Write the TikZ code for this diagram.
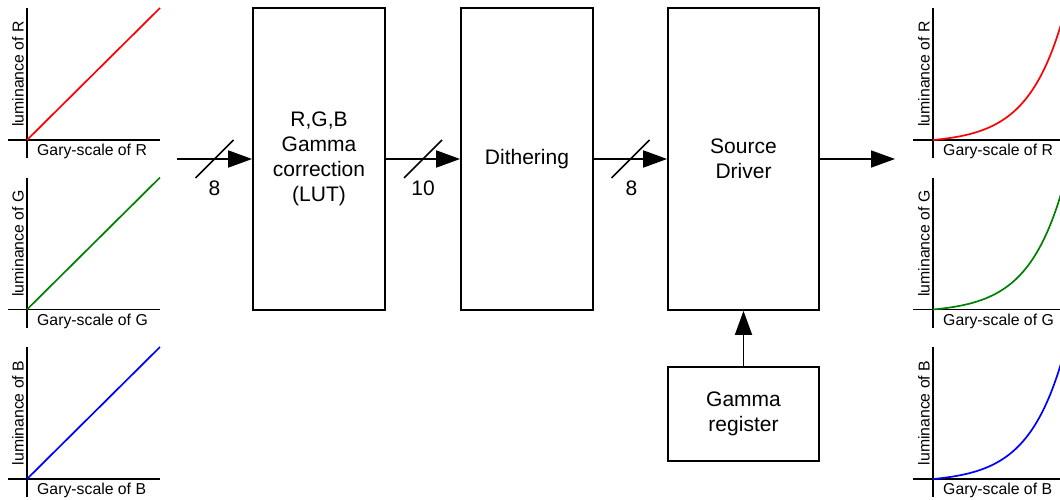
\documentclass[tikz,border=0pt]{standalone}
\usepackage{fontspec}
\setmainfont{Liberation Sans}
\usetikzlibrary{arrows.meta,calc}
\tikzset{
  blk/.style={draw, line width=1.8pt, fill=white, align=center, inner sep=0pt,
              font=\fontsize{21}{25}\selectfont},
  arr/.style={line width=1.8pt, -{Triangle[length=24pt,width=17pt]}},
  slashln/.style={line width=1.5pt},
  bits/.style={font=\fontsize{21}{24}\selectfont, inner sep=0pt},
  axisln/.style={line width=1.9pt},
  curveln/.style={line width=1.7pt},
  xlab/.style={font=\fontsize{15.8}{18}\selectfont, inner sep=0pt, anchor=base west},
  ylab/.style={font=\fontsize{15.8}{18}\selectfont, inner sep=0pt, rotate=90, anchor=base},
}
\definecolor{cR}{RGB}{255,0,0}
\definecolor{cG}{RGB}{0,128,0}
\definecolor{cB}{RGB}{0,0,255}
\begin{document}
\begin{tikzpicture}[x=1pt,y=-1pt]
\useasboundingbox (0,0) rectangle (1060,500);

% ---------- left plots (linear) ----------
\foreach \oy/\c/\l in {0/cR/R, 169.5/cG/G, 339/cB/B}{
  \draw[axisln] (27,8+\oy) -- (27,158+\oy);
  \draw[axisln] (8,140+\oy) -- (160,140+\oy);
  \draw[curveln, \c] (27,140+\oy) -- (160,8+\oy);
  \node[xlab] at (37,155.5+\oy) {Gary-scale of \l};
  \node[ylab] at (23.5,74+\oy) {luminance of \l};
}

% ---------- right plots (gamma curves) ----------
\begin{scope}
\clip (0,0) rectangle (1060,500);
\foreach \oy/\c/\l in {0/cR/R, 169.5/cG/G, 339/cB/B}{
  \draw[axisln] (933,8+\oy) -- (933,158+\oy);
  \draw[axisln] (913,140+\oy) -- (1075,140+\oy);
  \draw[curveln, \c] plot[domain=0:133, samples=80, smooth]
    ({933+\x},{140+\oy-3.3*(exp(0.028*\x)-1)});
  \node[xlab] at (943,155.5+\oy) {Gary-scale of \l};
  \node[ylab] at (929.5,74+\oy) {luminance of \l};
}
\end{scope}

% ---------- blocks ----------
\node[blk, minimum width=132pt, minimum height=302pt] (gc) at (319,159)
  {R,G,B\\Gamma\\correction\\(LUT)};
\node[blk, minimum width=132pt, minimum height=302pt] (di) at (527,159) {Dithering};
\node[blk, minimum width=151pt, minimum height=302pt] (sd) at (743.5,159) {Source\\Driver};
\node[blk, minimum width=151pt, minimum height=94pt] (gr) at (743.5,414) {Gamma\\register};

\coordinate (in) at (177,159);
\coordinate (out) at (895,159);

% ---------- connectors ----------
\draw[arr] (in) -- (gc.west) coordinate[pos=0.5] (m1);
\draw[arr] (gc.east) -- (di.west) coordinate[pos=0.5] (m2);
\draw[arr] (di.east) -- (sd.west) coordinate[pos=0.5] (m3);
\draw[arr] (sd.east) -- (out);
\draw[arr] (gr.north) -- (sd.south);

% bus-width slashes
\foreach \m in {m1,m2,m3}{
  \draw[slashln] (\m) ++(-19,19) -- ++(38,-38);
}
\node[bits] (b1) at ($(m1)+(0,29.5)$) {8};
\node[bits] (b2) at ($(m2)+(0,29.5)$) {10};
\node[bits] (b3) at ($(m3)+(1,29)$) {8};
\end{tikzpicture}
\end{document}
